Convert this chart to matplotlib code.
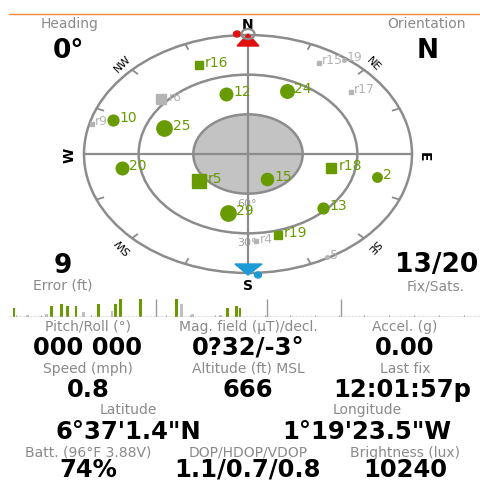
import numpy as np
import matplotlib
matplotlib.use('Agg')
import matplotlib.pyplot as plt
from matplotlib.patches import Ellipse, Polygon

plt.rcParams['font.family'] = ['DejaVu Sans']

# satellites: name, azimuth (deg), elevation (deg), snr, used in fix
sat_names = ['r16', '12', 'r6', '10', 'r9', '25', 'r15', '19', '24', 'r17',
             '20', 'r5', '15', 'r18', '2', '13', '29', 'r19', 'r4', '5']
sat_az = [338, 345, 311, 289, 285, 293, 29.5, 36.5, 24, 50,
          261, 233, 151, 103, 104, 135, 194, 165, 176, 151]
sat_el = [17.5, 43, 27, 11.6, 1.3, 40, 10.9, 1.5, 38, 16.5,
          20, 56, 68, 43, 17, 32, 44, 26.7, 24, 0.8]
sat_snr = [22, 28, 28, 24, 10, 34, 10, 8, 30, 10,
           28, 36, 27, 26, 21, 24, 34, 22, 10, 8]
sat_used = [1, 1, 0, 1, 0, 1, 0, 0, 1, 0,
            1, 1, 1, 1, 1, 1, 1, 1, 0, 0]

# signal strength bars (channel, snr)
bar_used_ch = [2, 17, 21, 23.5, 27, 36, 43, 45, 53, 67.5, 88, 91.5, 93]
bar_used_snr = [20, 24, 28, 24, 24, 28, 28, 39, 39, 39, 20, 24, 20]
bar_free_ch = [7.3, 15, 30, 41.5, 69.5, 74, 85]
bar_free_snr = [4, 6, 10, 13, 28, 6, 4]
band_sep = [59.3, 104, 133.5]

heading = '0°'
orientation = 'N'
error_ft = '9'
fix_sats = '13/20'
info_rows = [
    [('Pitch/Roll (°)', '000 000'), ('Mag. field (µT)/decl.', '0?32/-3°'), ('Accel. (g)', '0.00')],
    [('Speed (mph)', '0.8'), ('Altitude (ft) MSL', '666'), ('Last fix', '12:01:57p')],
]
lat = ('Latitude', '6°37\'1.4"N')
lon = ('Longitude', '1°19\'23.5"W')
last_row = [('Batt. (96°F 3.88V)', '74%'), ('DOP/HDOP/VDOP', '1.1/0.7/0.8'), ('Brightness (lux)', '10240')]

GREEN = '#679b00'
LGRAY = '#b4b4b4'
RING = '#8c8c8c'
LABEL = '#8a8a8a'
BIG = 17.5

fig = plt.figure(figsize=(4.81, 4.81), dpi=100)
ax = fig.add_axes([0, 0, 1, 1])
ax.set_xlim(0, 481)
ax.set_ylim(481, 0)
ax.axis('off')

cx, cy, rx, ry = 248, 155, 164, 119


def to_xy(az, el):
    r = (90 - np.asarray(el, float)) / 90
    a = np.radians(az)
    return cx + rx * r * np.sin(a), cy - ry * r * np.cos(a)


ax.plot([9, 481], [15, 15], color='#f0883a', lw=1)

# sky plot rings
ax.add_patch(Ellipse((cx, cy), 2 * rx / 3, 2 * ry / 3, facecolor='#c3c3c3', edgecolor=RING, lw=1.8, zorder=1))
for f in [2 / 3, 1]:
    ax.add_patch(Ellipse((cx, cy), 2 * rx * f, 2 * ry * f, fill=False, edgecolor=RING, lw=1.8, zorder=1))
ax.plot([cx - rx, cx + rx], [cy, cy], color=RING, lw=1.6, zorder=2)
ax.plot([cx, cx], [cy - ry, cy + ry], color=RING, lw=1.6, zorder=2)

for a in np.arange(22.5, 360, 22.5):
    if a % 90 == 0:
        continue
    x0, y0 = to_xy(a, 0)
    x1, y1 = to_xy(a, 4)
    ax.plot([x0, x1], [y0, y1], color=RING, lw=1.3, zorder=2)

for el in [60, 30]:
    x, y = to_xy(180, el)
    ax.text(x - 1, y + 9, '%d°' % el, color='#9a9a9a', fontsize=8, ha='center', va='center', zorder=3)

# compass labels
ax.text(248, 25, 'N', fontsize=10, fontweight='bold', ha='center', va='center')
ax.text(248, 286, 'S', fontsize=10, fontweight='bold', ha='center', va='center')
ax.text(70, 155, 'W', fontsize=10, fontweight='bold', ha='center', va='center', rotation=90)
ax.text(424, 157, 'E', fontsize=10, fontweight='bold', ha='center', va='center', rotation=-90)
for name, a, rot in [('NW', 315, 45), ('NE', 45, -45), ('SE', 135, -135), ('SW', 225, 135)]:
    x, y = to_xy(a, -7)
    ax.text(x, y, name, fontsize=8, ha='center', va='center', rotation=rot)

# north / south markers
ax.add_patch(Polygon([[237, 47], [259, 47], [248, 35]], color='#e01010', zorder=5))
ax.add_patch(Ellipse((248, 35), 13, 10, fill=False, edgecolor='#8a8a8a', lw=1.6, zorder=6))
ax.add_patch(Ellipse((237, 35), 7, 6, color='#e01010', zorder=5))
ax.add_patch(Polygon([[235, 265], [262, 265], [248, 276]], color='#1e9ad6', zorder=5))
ax.add_patch(Ellipse((258, 276), 7, 6, color='#1e9ad6', zorder=5))

# satellites
xs, ys = to_xy(sat_az, sat_el)
for name, x, y, snr, used in zip(sat_names, xs, ys, sat_snr, sat_used):
    col = GREEN if used else LGRAY
    d = snr * 0.45
    mk = 's' if name.startswith('r') else 'o'
    ax.plot(x, y, marker=mk, ms=d * 0.72 * (0.85 if mk == 's' else 1), color=col, zorder=4, lw=0)
    ax.text(x + d / 2 + 1, y - 3, name, color=col, fontsize=10 if used else 9,
            ha='left', va='center', zorder=4)

# header texts
ax.text(70, 24, 'Heading', color=LABEL, fontsize=10, ha='center', va='center')
ax.text(69, 58, heading, fontsize=19, fontweight='bold', ha='center', va='baseline')
ax.text(427, 24, 'Orientation', color=LABEL, fontsize=10, ha='center', va='center')
ax.text(428, 58, orientation, fontsize=19, fontweight='bold', ha='center', va='baseline')
ax.text(63, 273, error_ft, fontsize=19, fontweight='bold', ha='center', va='baseline')
ax.text(63, 286, 'Error (ft)', color=LABEL, fontsize=10, ha='center', va='center')
ax.text(478, 272, fix_sats, fontsize=19, fontweight='bold', ha='right', va='baseline')
ax.text(436, 287, 'Fix/Sats.', color=LABEL, fontsize=10, ha='center', va='center')

# signal bars
bx = fig.add_axes([9 / 481, (481 - 318) / 481, 472 / 481, 23 / 481])
bx.set_xlim(0, 190)
bx.set_ylim(0, 50)
bx.axis('off')
bx.axhline(0, color='#b0b0b0', lw=1)
bx.vlines(np.arange(0, 191, 1.5), 0, 1.5, color='#c0c0c0', lw=0.6)
bx.vlines(np.arange(3, 191, 10), 0, 5, color='#a0a0a0', lw=0.8)
bx.vlines(band_sep, 0, 39, color='#9a9a9a', lw=1)
bx.bar(bar_free_ch, bar_free_snr, width=1.1, color='#c0c0c0')
bx.bar(bar_used_ch, bar_used_snr, width=1.1, color=GREEN)

# info grid
cols = [88, 248, 405]
for row, (ly, vy) in zip(info_rows, [(327, 355), (369, 397)]):
    for (lab, val), x in zip(row, cols):
        ax.text(x, ly, lab, color=LABEL, fontsize=10, ha='center', va='center')
        if val.startswith('12:'):
            ax.text(333, vy, val, fontsize=BIG, fontweight='bold', ha='left', va='baseline')
        else:
            ax.text(x, vy, val, fontsize=BIG, fontweight='bold', ha='center', va='baseline')
for (lab, val), x in zip([lat, lon], [128, 367]):
    ax.text(x, 410, lab, color=LABEL, fontsize=10, ha='center', va='center')
    ax.text(x, 439, val, fontsize=BIG, fontweight='bold', ha='center', va='baseline')
for (lab, val), x in zip(last_row, cols):
    ax.text(x, 453, lab, color=LABEL, fontsize=10, ha='center', va='center')
    ax.text(x, 477, val, fontsize=BIG, fontweight='bold', ha='center', va='baseline')

fig.savefig('out.png', dpi=100)
